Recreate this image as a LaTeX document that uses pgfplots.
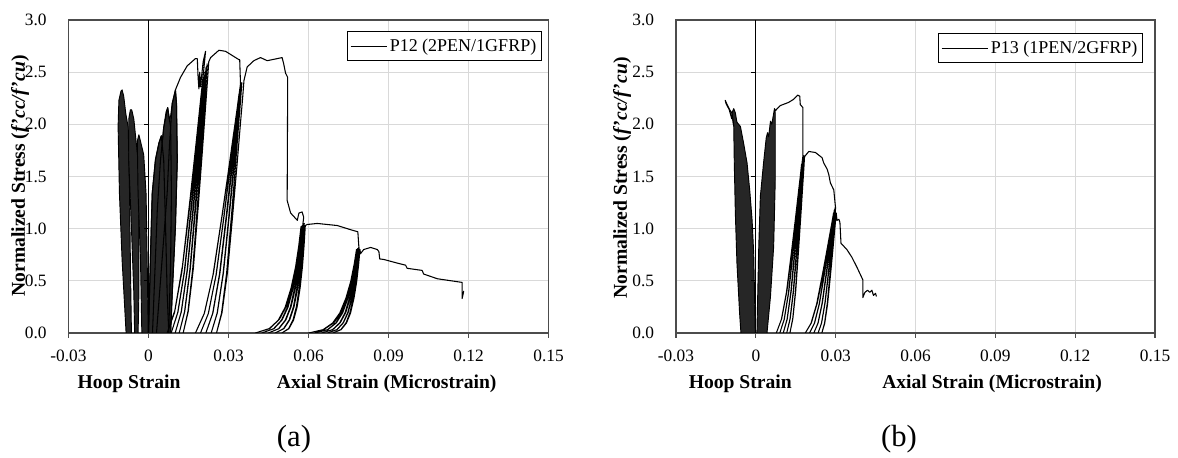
\documentclass[border=0pt]{standalone}
\usepackage{fontspec}
\setmainfont{Liberation Serif}
\usepackage{pgfplots}
\pgfplotsset{compat=1.18}
\tikzset{ytk/.style={black, line width=0.6pt}}
\begin{document}
\begin{tikzpicture}
\useasboundingbox (0,0) rectangle (883.5pt,342.75pt);
\pgfplotsset{
  myaxis/.style={
    scale only axis, anchor=south west,
    height=234.75pt,
    xmin=-0.03, xmax=0.15, ymin=0, ymax=3,
    xtick={-0.03,0,0.03,0.06,0.09,0.12,0.15},
    xticklabels={-0.03,0,0.03,0.06,0.09,0.12,0.15},
    ytick={0,0.5,1,1.5,2,2.5,3},
    yticklabels={0.0,0.5,1.0,1.5,2.0,2.5,3.0},
    xtick pos=bottom, ytick pos=left,
    tick align=outside, major tick length=3.75pt,
    xtick style={black!70, line width=0.8pt},
    ytick style={draw=none},
    grid=major, grid style={black!15, line width=0.75pt},
    axis line style={black!70, line width=0.9pt},
    xticklabel style={font=\fontsize{13}{13}\selectfont, anchor=north, inner sep=0pt, yshift=-9pt},
    yticklabel style={font=\fontsize{13}{13}\selectfont, anchor=east, inner sep=0pt, xshift=-12.5pt},
    legend style={draw=black, line width=0.6pt, fill=white, font=\fontsize{13.5}{15}\selectfont,
      inner xsep=2pt, inner ysep=3.5pt, anchor=north east},
    legend cell align=left,
  },
  dat/.style={black, line width=0.8pt, line join=round, forget plot},
  den/.style={fill=black!85, draw=black, line width=0.7pt, line join=round, forget plot},
}
% ---------------- panel (a) ----------------
\begin{axis}[myaxis, at={(51.375pt,93pt)}, width=360pt,
  legend style={at={(0.9865,0.965)}},
  legend image code/.code={\path (-6pt,0pt) -- (0pt,0pt); \draw[black, line width=0.6pt] (0pt,0pt) -- (21pt,0pt);}]
\addlegendimage{black, line width=0.6pt}
\addlegendentry{P12 (2PEN/1GFRP)}
% hoop fingers
\addplot[den] coordinates {(-0.0084,0) (-0.0099,0.70) (-0.0109,1.34) (-0.0114,1.98) (-0.0111,2.23) (-0.0103,2.32) (-0.0099,2.33) (-0.0093,2.27) (-0.0085,2.10) (-0.0076,1.97) (-0.0071,1.34) (-0.0068,0.70) (-0.0064,0) (-0.0084,0)};
\addplot[den] coordinates {(-0.0052,0) (-0.0055,0.38) (-0.0064,1.01) (-0.0074,1.65) (-0.0074,2.05) (-0.0068,2.14) (-0.0063,2.14) (-0.0055,2.05) (-0.0039,1.65) (-0.0036,1.01) (-0.0036,0.38) (-0.0039,0) (-0.0052,0)};
\addplot[den] coordinates {(-0.0025,0) (-0.0030,0.70) (-0.0039,1.33) (-0.0042,1.84) (-0.0036,1.90) (-0.0018,1.71) (-0.0009,1.33) (-0.0005,0.70) (-0.0001,0) (-0.0025,0)};
% axial group 1
\addplot[den] coordinates {(0,0) (0.0007,0.70) (0.0014,1.34) (0.0026,1.66) (0.0039,1.82) (0.0048,1.89) (0.0053,1.86) (0.0057,1.97) (0.0066,2.12) (0.0072,2.16) (0.0078,2.05) (0.0083,2.08) (0.0089,2.20) (0.0101,2.33) (0.0105,2.20) (0.0108,1.66) (0.0101,1.02) (0.0089,0.38) (0.0083,0) (0,0)};
\addplot[dat] coordinates {(0,0) (0.0007,0.70) (0.0014,1.34) (0.0026,1.66) (0.0039,1.82) (0.0048,1.89) (0.0057,1.66) (0.0064,1.02) (0.0070,0.38) (0.0076,0)};
\addplot[dat] coordinates {(0.0015,0) (0.0033,1.18) (0.0045,1.66) (0.0057,1.97) (0.0072,2.16) (0.0083,1.97) (0.0086,1.34) (0.0083,0.70) (0.0076,0)};
\addplot[dat] coordinates {(0.0030,0) (0.0070,1.34) (0.0079,1.82) (0.0089,2.20) (0.0101,2.33) (0.0105,2.20) (0.0108,1.66) (0.0101,1.02) (0.0089,0.38) (0.0083,0)};
% main axial path
\addplot[dat] coordinates {
(0.0101,2.33) (0.0120,2.45) (0.0145,2.56) (0.0176,2.63) (0.0183,2.63) (0.0186,2.45) (0.0189,2.34) (0.0192,2.50) (0.0195,2.36) (0.0199,2.46) (0.0205,2.60) (0.0214,2.70)
(0.02068,2.511) (0.01967,2.268) (0.0178,1.809) (0.01564,1.296) (0.01276,0.648) (0.00988,0.216) (0.0070,0)
(0.00976,0.196) (0.01252,0.588) (0.01528,1.176) (0.01735,1.6415) (0.01914,2.058) (0.02011,2.2785) (0.0208,2.45)
(0.02019,2.2785) (0.01932,2.058) (0.01773,1.6415) (0.01588,1.176) (0.01342,0.588) (0.01096,0.196) (0.0085,0)
(0.01104,0.2) (0.01358,0.6) (0.01612,1.2) (0.01803,1.675) (0.01968,2.1) (0.02057,2.325) (0.0212,2.50)
(0.02064,2.325) (0.01986,2.1) (0.0184,1.675) (0.01672,1.2) (0.01448,0.6) (0.01224,0.2) (0.0100,0)
(0.01232,0.204) (0.01464,0.612) (0.01696,1.224) (0.0187,1.7085) (0.02021,2.142) (0.02102,2.3715) (0.0216,2.55)
(0.0211,2.3715) (0.02039,2.142) (0.01908,1.7085) (0.01756,1.224) (0.01554,0.612) (0.01352,0.204) (0.0115,0)
(0.0136,0.2064) (0.0157,0.6192) (0.0178,1.2384) (0.01938,1.7286) (0.02074,2.1672) (0.02148,2.3994) (0.0220,2.58)
(0.02155,2.3994) (0.02092,2.1672) (0.01975,1.7286) (0.0184,1.2384) (0.0166,0.6192) (0.0148,0.2064) (0.0130,0)
(0.01492,0.208) (0.01684,0.624) (0.01876,1.248) (0.0202,1.742) (0.02145,2.184) (0.02212,2.418) (0.0226,2.60)
(0.0233,2.64) (0.0264,2.71) (0.0289,2.70) (0.0314,2.66) (0.0339,2.62) (0.0342,2.62) (0.0345,2.39)
(0.03366,2.2227) (0.03247,2.0076) (0.03028,1.6013) (0.02774,1.1472) (0.02436,0.5736) (0.02098,0.1912) (0.0176,0)
(0.02088,0.184) (0.02416,0.552) (0.02744,1.104) (0.0299,1.541) (0.03203,1.932) (0.03318,2.139) (0.0340,2.30)
(0.03328,2.139) (0.03226,1.932) (0.03038,1.541) (0.0282,1.104) (0.0253,0.552) (0.0224,0.184) (0.0195,0)
(0.02246,0.188) (0.02542,0.564) (0.02838,1.128) (0.0306,1.5745) (0.03252,1.974) (0.03356,2.1855) (0.0343,2.35)
(0.03366,2.1855) (0.03276,1.974) (0.0311,1.5745) (0.02918,1.128) (0.02662,0.564) (0.02406,0.188) (0.0215,0)
(0.02414,0.1904) (0.02678,0.5712) (0.02942,1.1424) (0.0314,1.5946) (0.03312,1.9992) (0.03404,2.2134) (0.0347,2.38)
(0.03414,2.2134) (0.03336,1.9992) (0.0319,1.5946) (0.03022,1.1424) (0.02798,0.5712) (0.02574,0.1904) (0.0235,0)
(0.0258,0.192) (0.0281,0.576) (0.0304,1.152) (0.03213,1.608) (0.03362,2.016) (0.03443,2.232) (0.0350,2.40)
(0.03453,2.232) (0.03386,2.016) (0.03263,1.608) (0.0312,1.152) (0.0293,0.576) (0.0274,0.192) (0.0255,0)
(0.02756,0.1936) (0.02962,0.5808) (0.03168,1.1616) (0.03323,1.6214) (0.03456,2.0328) (0.03529,2.2506) (0.0358,2.42)
(0.0370,2.55) (0.0395,2.61) (0.0420,2.64) (0.0445,2.61) (0.0483,2.63) (0.0501,2.64) (0.0507,2.58) (0.0514,2.49) (0.0522,2.45) (0.0520,1.27) (0.0533,1.15) (0.0558,1.08) (0.0564,1.15) (0.0576,1.16) (0.0582,1.11)
(0.0573,0.9102) (0.05603,0.6882) (0.05422,0.4662) (0.05187,0.2664) (0.04915,0.1332) (0.04553,0.0444) (0.0401,0)
(0.04523,0.0408) (0.04865,0.1224) (0.05122,0.2448) (0.05344,0.4284) (0.05515,0.6324) (0.05635,0.8364) (0.0572,1.02)
(0.05647,0.8364) (0.05544,0.6324) (0.05397,0.4284) (0.05206,0.2448) (0.04985,0.1224) (0.04691,0.0408) (0.0425,0)
(0.04703,0.0412) (0.05005,0.1236) (0.05232,0.2472) (0.05428,0.4326) (0.05579,0.6386) (0.05685,0.8446) (0.0576,1.03)
(0.05697,0.8446) (0.05609,0.6386) (0.05483,0.4326) (0.05319,0.2472) (0.0513,0.1236) (0.04878,0.0412) (0.0450,0)
(0.0489,0.0416) (0.0515,0.1248) (0.05345,0.2496) (0.05514,0.4368) (0.05644,0.6448) (0.05735,0.8528) (0.0580,1.04)
(0.05748,0.8528) (0.05674,0.6448) (0.05569,0.4368) (0.05433,0.2496) (0.05275,0.1248) (0.05065,0.0416) (0.0475,0)
(0.05077,0.042) (0.05295,0.126) (0.05459,0.252) (0.0560,0.441) (0.05709,0.651) (0.05786,0.861) (0.0584,1.05)
(0.05798,0.861) (0.05739,0.651) (0.05655,0.441) (0.05546,0.252) (0.0542,0.126) (0.05252,0.042) (0.0500,0)
(0.05264,0.0412) (0.0544,0.1236) (0.05572,0.2472) (0.05686,0.4326) (0.05774,0.6386) (0.05836,0.8446) (0.0588,1.03)
(0.0595,1.04) (0.0633,1.05) (0.0708,1.03) (0.0758,0.99) (0.0785,0.97) (0.0789,0.82)
(0.07796,0.6724) (0.07664,0.5084) (0.07476,0.3444) (0.07232,0.1968) (0.0695,0.0984) (0.06574,0.0328) (0.0601,0)
(0.06547,0.032) (0.06905,0.096) (0.07174,0.192) (0.07406,0.336) (0.07585,0.496) (0.07711,0.656) (0.0780,0.80)
(0.07723,0.656) (0.07614,0.496) (0.07459,0.336) (0.07258,0.192) (0.07025,0.096) (0.06715,0.032) (0.0625,0)
(0.06727,0.0324) (0.07045,0.0972) (0.07284,0.1944) (0.0749,0.3402) (0.07649,0.5022) (0.07761,0.6642) (0.0784,0.81)
(0.07773,0.6642) (0.07679,0.5022) (0.07545,0.3402) (0.07371,0.1944) (0.0717,0.0972) (0.06902,0.0324) (0.0650,0)
(0.06914,0.0328) (0.0719,0.0984) (0.07397,0.1968) (0.07576,0.3444) (0.07714,0.5084) (0.07811,0.6724) (0.0788,0.82)
(0.07822,0.6724) (0.07741,0.5084) (0.07625,0.3444) (0.07474,0.1968) (0.0730,0.0984) (0.07068,0.0328) (0.0672,0)
(0.07074,0.0328) (0.0731,0.0984) (0.07487,0.1968) (0.0764,0.3444) (0.07758,0.5084) (0.07841,0.6724) (0.0790,0.82)
(0.07851,0.6724) (0.07782,0.5084) (0.07684,0.3444) (0.07557,0.1968) (0.0741,0.0984) (0.07214,0.0328) (0.0692,0)
(0.07223,0.032) (0.07425,0.096) (0.07577,0.192) (0.07708,0.336) (0.07809,0.496) (0.0788,0.656) (0.0793,0.80)
(0.0795,0.76) (0.0807,0.80) (0.0833,0.82) (0.0858,0.80) (0.0864,0.78) (0.0867,0.71) (0.0882,0.705) (0.0933,0.67) (0.0964,0.65) (0.0970,0.62) (0.1026,0.60) (0.1032,0.565) (0.1083,0.52) (0.1176,0.485) (0.1176,0.33) (0.1182,0.40) (0.1178,0.35)
};
\draw[black, line width=0.7pt] (axis cs:0,0) -- (axis cs:0,3);
\draw[ytk] (axis cs:0,0.5) -- ++(-3.75pt,0pt);
\draw[ytk] (axis cs:0,1.0) -- ++(-3.75pt,0pt);
\draw[ytk] (axis cs:0,1.5) -- ++(-3.75pt,0pt);
\draw[ytk] (axis cs:0,2.0) -- ++(-3.75pt,0pt);
\draw[ytk] (axis cs:0,2.5) -- ++(-3.75pt,0pt);
\end{axis}
% ---------------- panel (b) ----------------
\begin{axis}[myaxis, at={(507pt,93pt)}, width=359.25pt,
  legend style={at={(0.975,0.958)}},
  legend image code/.code={\path (-6pt,0pt) -- (0pt,0pt); \draw[black, line width=0.6pt] (0pt,0pt) -- (28.5pt,0pt);}]
\addlegendimage{black, line width=0.6pt}
\addlegendentry{P13 (1PEN/2GFRP)}
\addplot[den] coordinates {(-0.0056,0) (-0.0061,0.19) (-0.0071,0.67) (-0.0077,1.15) (-0.0081,1.63) (-0.0083,1.98) (-0.0090,2.11) (-0.0083,2.15) (-0.0077,2.11) (-0.0071,2.02) (-0.0058,1.98) (-0.0046,1.82) (-0.0033,1.63) (-0.0023,1.37) (-0.0014,1.08) (-0.0008,0.76) (-0.0002,0) (-0.0056,0)};
\addplot[dat] coordinates {(-0.0083,1.98) (-0.0090,2.11) (-0.0096,2.13) (-0.0108,2.19) (-0.0115,2.23) (-0.0112,2.20) (-0.0100,2.14) (-0.0090,2.05)};
\addplot[den] coordinates {(0.0004,0) (0.0011,0.83) (0.0017,1.31) (0.0029,1.63) (0.0039,1.87) (0.0044,1.92) (0.0048,1.88) (0.0055,2.03) (0.0060,2.00) (0.0070,2.15) (0.0073,2.11) (0.0073,1.47) (0.0067,0.83) (0.0055,0.35) (0.0042,0) (0.0004,0)};
\addplot[dat] coordinates {
(0.0070,2.15) (0.0073,2.13) (0.0092,2.18) (0.0123,2.21) (0.0142,2.24) (0.0157,2.28) (0.0165,2.27) (0.0167,2.19) (0.0177,2.16) (0.0177,1.70)
(0.0172,1.581) (0.0165,1.428) (0.0152,1.139) (0.0137,0.816) (0.0117,0.408) (0.0097,0.136) (0.0077,0)
(0.0096,0.1296) (0.0115,0.3888) (0.0134,0.7776) (0.01483,1.0854) (0.01606,1.3608) (0.01673,1.5066) (0.0172,1.62)
(0.01679,1.5066) (0.01622,1.3608) (0.01515,1.0854) (0.01392,0.7776) (0.01228,0.3888) (0.01064,0.1296) (0.0090,0)
(0.0107,0.1328) (0.0124,0.3984) (0.0141,0.7968) (0.01538,1.1122) (0.01648,1.3944) (0.01708,1.5438) (0.0175,1.66)
(0.01714,1.5438) (0.01664,1.3944) (0.0157,1.1122) (0.01462,0.7968) (0.01318,0.3984) (0.01174,0.1328) (0.0103,0)
(0.0118,0.1344) (0.0133,0.4032) (0.0148,0.8064) (0.01613,1.1256) (0.0169,1.4112) (0.01743,1.5624) (0.0178,1.68)
(0.01749,1.5624) (0.01706,1.4112) (0.01625,1.1256) (0.01532,0.8064) (0.01408,0.4032) (0.01284,0.1344) (0.0116,0)
(0.0129,0.136) (0.0142,0.408) (0.0155,0.816) (0.01648,1.139) (0.01732,1.428) (0.01778,1.581) (0.0181,1.70)
(0.01784,1.581) (0.01746,1.428) (0.01678,1.139) (0.01598,0.816) (0.01492,0.408) (0.01386,0.136) (0.0128,0)
(0.0139,0.1352) (0.0150,0.4056) (0.0161,0.8112) (0.01693,1.1323) (0.01764,1.4196) (0.01803,1.5717) (0.0183,1.69)
(0.0199,1.74) (0.0224,1.73) (0.0249,1.68) (0.0255,1.63) (0.0268,1.57) (0.0274,1.52) (0.0280,1.44) (0.0293,1.37) (0.0299,1.21)
(0.02934,1.1253) (0.02854,1.0164) (0.02708,0.8107) (0.02538,0.5808) (0.02312,0.2904) (0.02086,0.0968) (0.0186,0)
(0.02072,0.092) (0.02284,0.276) (0.02496,0.552) (0.02655,0.7705) (0.02793,0.966) (0.02867,1.0695) (0.0292,1.15)
(0.02875,1.0695) (0.02812,0.966) (0.02695,0.7705) (0.0256,0.552) (0.0238,0.276) (0.0220,0.092) (0.0202,0)
(0.02206,0.0944) (0.02392,0.2832) (0.02578,0.5664) (0.02718,0.7906) (0.02838,0.9912) (0.02904,1.0974) (0.0295,1.18)
(0.02912,1.0974) (0.02858,0.9912) (0.02758,0.7906) (0.02642,0.5664) (0.02488,0.2832) (0.02334,0.0944) (0.0218,0)
(0.0234,0.096) (0.0250,0.288) (0.0266,0.576) (0.0278,0.804) (0.02884,1.008) (0.0294,1.116) (0.0298,1.20)
(0.02948,1.116) (0.02903,1.008) (0.0282,0.804) (0.02724,0.576) (0.02596,0.288) (0.02468,0.096) (0.0234,0)
(0.02472,0.0968) (0.02604,0.2904) (0.02736,0.5808) (0.02835,0.8107) (0.02921,1.0164) (0.02967,1.1253) (0.0300,1.21)
(0.02974,1.1253) (0.02938,1.0164) (0.0287,0.8107) (0.02792,0.5808) (0.02688,0.2904) (0.02584,0.0968) (0.0248,0)
(0.02588,0.092) (0.02696,0.276) (0.02804,0.552) (0.02885,0.7705) (0.02955,0.966) (0.02993,1.0695) (0.0302,1.15)
(0.0305,1.08) (0.0312,1.09) (0.0316,1.06) (0.0320,0.86) (0.0342,0.80) (0.0360,0.73) (0.0380,0.63) (0.0391,0.57) (0.0402,0.51) (0.0402,0.34) (0.0410,0.39) (0.0420,0.41) (0.0428,0.39) (0.0436,0.41) (0.0442,0.36) (0.0450,0.38) (0.0453,0.35)
};
\draw[black, line width=0.7pt] (axis cs:0,0) -- (axis cs:0,3);
\draw[ytk] (axis cs:0,0.5) -- ++(-3.75pt,0pt);
\draw[ytk] (axis cs:0,1.0) -- ++(-3.75pt,0pt);
\draw[ytk] (axis cs:0,1.5) -- ++(-3.75pt,0pt);
\draw[ytk] (axis cs:0,2.0) -- ++(-3.75pt,0pt);
\draw[ytk] (axis cs:0,2.5) -- ++(-3.75pt,0pt);
\end{axis}
% ---------------- labels ----------------
\node[rotate=90, font=\fontsize{14.7}{16}\selectfont\bfseries] at (15pt,210.75pt) {Normalized Stress (\textit{f’cc/f’cu})};
\node[rotate=90, font=\fontsize{14.7}{16}\selectfont\bfseries] at (466.5pt,209.25pt) {Normalized Stress (\textit{f’cc/f’cu})};
\node[anchor=base west, inner sep=0pt, font=\fontsize{14.7}{16}\selectfont\bfseries] at (58pt,51pt) {Hoop Strain};
\node[anchor=base west, inner sep=0pt, font=\fontsize{14.7}{16}\selectfont\bfseries] at (207.5pt,51pt) {Axial Strain (Microstrain)};
\node[anchor=base west, inner sep=0pt, font=\fontsize{14.7}{16}\selectfont\bfseries] at (516.4pt,51pt) {Hoop Strain};
\node[anchor=base west, inner sep=0pt, font=\fontsize{14.7}{16}\selectfont\bfseries] at (661.5pt,51pt) {Axial Strain (Microstrain)};
\node[anchor=base, inner sep=0pt, font=\fontsize{23}{25}\selectfont] at (220.5pt,8.25pt) {(a)};
\node[anchor=base, inner sep=0pt, font=\fontsize{23}{25}\selectfont] at (674.25pt,8.25pt) {(b)};
\end{tikzpicture}
\end{document}
